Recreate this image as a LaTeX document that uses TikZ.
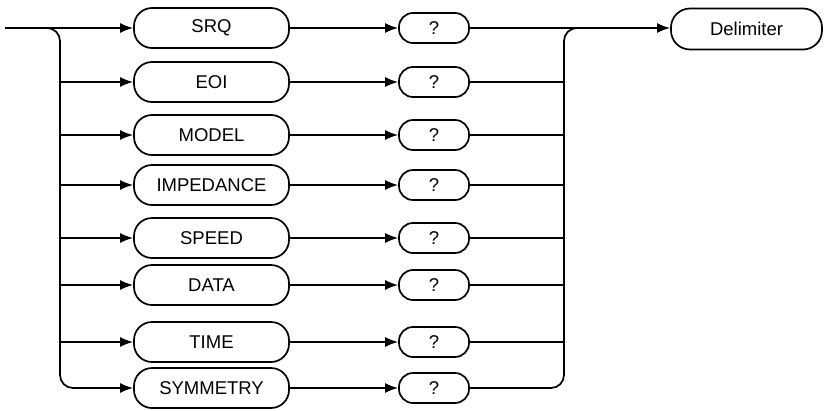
\documentclass[tikz,border=0pt]{standalone}
\usepackage{fontspec}
\setmainfont{Liberation Sans}
\usetikzlibrary{arrows.meta}
\begin{document}
\begin{tikzpicture}[x=1pt,y=-1pt,
  line width=1.7pt,
  lbl/.style={font=\fontsize{18.5}{22}\selectfont},
  kwbox/.style={draw, lbl, rounded corners=18pt, minimum width=155pt, minimum height=40pt, inner sep=0pt},
  qbox/.style={draw, lbl, rounded corners=14pt, minimum width=70pt, minimum height=30pt, inner sep=0pt},
  delbox/.style={draw, lbl, rounded corners=19pt, minimum width=151pt, minimum height=41pt, inner sep=0pt},
  arr/.style={-{Latex[length=13pt,width=10pt]}},
  railbend/.style={rounded corners=13pt},
]
\useasboundingbox (0,0) rectangle (829,410);
\foreach \i/\y/\t in {1/28/SRQ, 2/82/EOI, 3/135/MODEL, 4/185/IMPEDANCE, 5/238/SPEED, 6/285/DATA, 7/342/TIME, 8/388/SYMMETRY} {
  \node[kwbox] (k\i) at (211.5,\y) {\t};
  \node[qbox] (q\i) at (434,\y) {?};
  \draw[arr] (k\i.east) -- (q\i.west);
}
\node[delbox] (delim) at (746.5,29) {Delimiter};
\coordinate (start) at (5,28);
\coordinate (lsplit) at (46,28);
\coordinate (rjoin) at (580,28);
\coordinate (lrail) at (60,0);
\coordinate (rrail) at (564,0);
% entry and exit
\draw[arr] (start) -- (k1.west);
\draw[arr] (q1.east) -- (q1.east -| delim.west);
% left rail
\draw[railbend, arr] (lsplit) -| (lrail |- k8.west) -- (k8.west);
\foreach \i in {2,...,7} {
  \draw[arr] (lrail |- k\i.west) -- (k\i.west);
  \draw (q\i.east) -- (rrail |- q\i.east);
}
% right rail
\draw[railbend] (q8.east) -| (rrail |- q1.east) -- (rjoin);
\end{tikzpicture}
\end{document}
